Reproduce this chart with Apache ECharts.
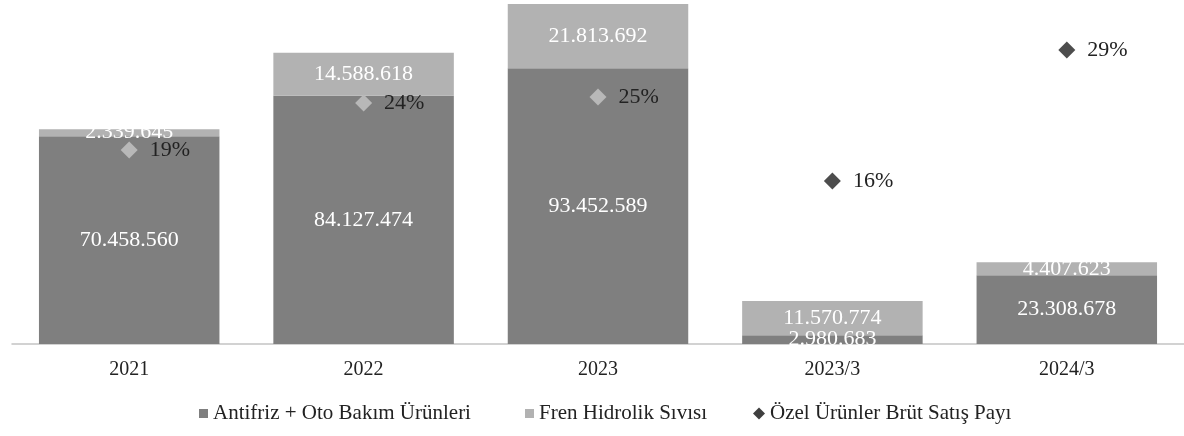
<!DOCTYPE html>
<html>
<head>
<meta charset="utf-8">
<script src="https://cdn.jsdelivr.net/npm/echarts@6/dist/echarts.min.js"></script>
<style>
  html, body { margin: 0; padding: 0; background: #fff; }
  #chart { width: 1184px; height: 436px; }
</style>
</head>
<body>
<div id="chart"></div>
<script>
  // kategoriler ve seriler
  const years = ['2021', '2022', '2023', '2023/3', '2024/3']
  const antifriz = [70458560, 84127474, 93452589, 2980683, 23308678]
  const frenHidrolik = [2339645, 14588618, 21813692, 11570774, 4407623]
  // özel ürünler brüt satış payı (%), etiketlerde yuvarlanır
  const ozelPay = [19.4, 24.1, 24.7, 16.3, 29.4]

  const serif = "'Liberation Serif', 'Times New Roman', serif"
  const fmt = v => v.toLocaleString('de-DE')

  const legendText = { fontFamily: serif, fontSize: 21, color: '#222' }
  // legend öğeleri arasındaki boşluklar eşit değil, her biri ayrı konumlanıyor
  const legendAt = (left, name, icon, size, color) => ({
    top: 398,
    left: left,
    itemWidth: size,
    itemHeight: size,
    textStyle: legendText,
    data: [{ name: name, icon: icon, itemStyle: color ? { color: color, opacity: 1 } : undefined }]
  })

  const chart = echarts.init(document.getElementById('chart'))

  chart.setOption({
    animation: false,
    textStyle: { fontFamily: serif },
    grid: { left: 12, right: 0, top: 0, bottom: 92 },
    legend: [
      legendAt(194, 'Antifriz + Oto Bakım Ürünleri', 'rect', 9),
      legendAt(520, 'Fren Hidrolik Sıvısı', 'rect', 9),
      legendAt(748, 'Özel Ürünler Brüt Satış Payı', 'diamond', 12, '#3f3f3f')
    ],
    xAxis: {
      type: 'category',
      data: years,
      axisTick: { show: false },
      axisLine: { lineStyle: { color: '#c4c4c4', width: 1.5 } },
      axisLabel: { fontFamily: serif, fontSize: 20, color: '#222', margin: 16 }
    },
    yAxis: [
      { type: 'value', min: 0, max: 116600000, show: false },
      { type: 'value', min: 0, max: 34.4, show: false }
    ],
    series: [
      {
        name: 'Antifriz + Oto Bakım Ürünleri',
        type: 'bar',
        stack: 'satis',
        barCategoryGap: '23%',
        itemStyle: { color: '#7f7f7f' },
        label: {
          show: true,
          position: 'inside',
          color: '#fff',
          fontFamily: serif,
          fontSize: 22,
          formatter: p => fmt(p.value)
        },
        data: antifriz
      },
      {
        name: 'Fren Hidrolik Sıvısı',
        type: 'bar',
        stack: 'satis',
        itemStyle: { color: '#b2b2b2' },
        label: {
          show: true,
          position: 'inside',
          color: '#fff',
          fontFamily: serif,
          fontSize: 22,
          formatter: p => fmt(p.value)
        },
        data: frenHidrolik
      },
      {
        name: 'Özel Ürünler Brüt Satış Payı',
        type: 'scatter',
        yAxisIndex: 1,
        symbol: 'diamond',
        symbolSize: 17,
        itemStyle: {
          opacity: 1,
          // çubukların üstündeki işaretler açık gri görünüyor
          color: p => (p.dataIndex < 3 ? '#b8b8b8' : '#4d4d4d')
        },
        label: {
          show: true,
          position: 'right',
          distance: 12,
          color: '#222',
          fontFamily: serif,
          fontSize: 22,
          formatter: p => Math.round(p.value) + '%'
        },
        z: 5,
        data: ozelPay
      }
    ]
  })
</script>
</body>
</html>
